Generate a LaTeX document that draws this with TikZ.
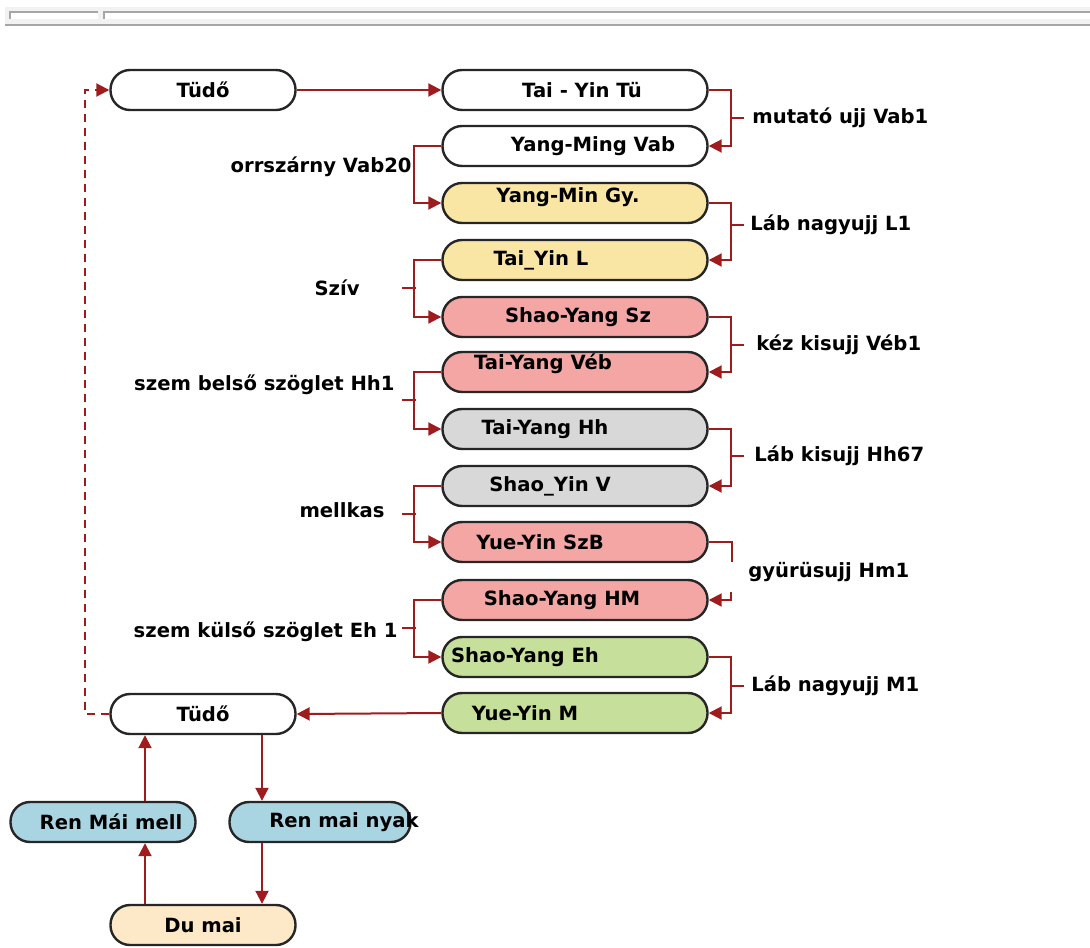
\documentclass[tikz,border=0pt]{standalone}
\usepackage{fontspec}
\setmainfont{DejaVu Sans}
\usetikzlibrary{arrows.meta}
\definecolor{ln}{HTML}{9E1B1E}
\definecolor{cyel}{HTML}{FAE6A4}
\definecolor{cpink}{HTML}{F4A6A4}
\definecolor{cgray}{HTML}{D8D8D8}
\definecolor{cgreen}{HTML}{C6DF9A}
\definecolor{cblue}{HTML}{A9D4E2}
\definecolor{ccream}{HTML}{FDE8C8}
\begin{document}
\begin{tikzpicture}[x=0.5pt,y=-0.5pt,
  stad/.style={draw=black!85, line width=1.2pt, rectangle, rounded corners=9.8pt,
    minimum width=132.5pt, minimum height=20pt, inner sep=0pt},
  sm/.style={stad, minimum width=92.5pt},
  txt/.style={font=\bfseries\fontsize{9.8}{11}\selectfont, inner sep=0pt},
  con/.style={draw=ln, line width=1pt},
  arr/.style={con, -{Triangle[length=6.5pt,width=6.5pt]}},
  tick/.style={con}
]
\useasboundingbox (0,0) rectangle (1090,947);
% top bar
\fill[gray!10] (5,7) rectangle (1090,26);
\draw[gray!70, line width=1pt] (5,25.5) -- (1090,25.5);
\fill[white] (10,12) rectangle (98,19);
\draw[gray!70, line width=1pt] (10,19) |- (98,12);
\fill[white] (104,12) rectangle (1090,19);
\draw[gray!70, line width=1pt] (104,19) |- (1090,12);

% right column
\node[stad, fill=white] (n1) at (575,90) {};
\node[txt, xshift=3.5pt] at (n1) {Tai - Yin Tü};
\node[stad, fill=white] (n2) at (575,146) {};
\node[txt, xshift=9pt] at (n2) {Yang-Ming Vab};
\node[stad, fill=cyel] (n3) at (575,203) {};
\node[txt, xshift=-3.5pt, yshift=3pt] at (n3) {Yang-Min Gy.};
\node[stad, fill=cyel] (n4) at (575,260) {};
\node[txt, xshift=-17pt] at (n4) {Tai\_Yin L};
\node[stad, fill=cpink] (n5) at (575,317) {};
\node[txt, xshift=1.5pt] at (n5) {Shao-Yang Sz};
\node[stad, fill=cpink] (n6) at (575,372) {};
\node[txt, xshift=-16pt, yshift=4pt] at (n6) {Tai-Yang Véb};
\node[stad, fill=cgray] (n7) at (575,429) {};
\node[txt, xshift=-15pt] at (n7) {Tai-Yang Hh};
\node[stad, fill=cgray] (n8) at (575,486) {};
\node[txt, xshift=-12.5pt] at (n8) {Shao\_Yin V};
\node[stad, fill=cpink] (n9) at (575,542) {};
\node[txt, xshift=-17.5pt] at (n9) {Yue-Yin SzB};
\node[stad, fill=cpink] (n10) at (575,600) {};
\node[txt, xshift=-6.5pt] at (n10) {Shao-Yang HM};
\node[stad, fill=cgreen] (n11) at (575,657) {};
\node[txt, xshift=-25pt] at (n11) {Shao-Yang Eh};
\node[stad, fill=cgreen] (n12) at (575,713) {};
\node[txt, xshift=-25pt] at (n12) {Yue-Yin M};

% left nodes
\node[sm, fill=white] (t1) at (203,90) {};
\node[txt] at (t1) {Tüdő};
\node[sm, fill=white] (t2) at (203,714) {};
\node[txt] at (t2) {Tüdő};
\node[sm, fill=cblue] (r1) at (103,822) {};
\node[txt, xshift=4pt] at (r1) {Ren Mái mell};
\node[stad, fill=cblue, minimum width=90.5pt] (r2) at (320,822) {};
\node[txt, xshift=12pt] at (r2) {Ren mai nyak};
\node[sm, fill=ccream] (d) at (203,925) {};
\node[txt] at (d) {Du mai};

% main horizontal connectors
\draw[arr] (t1.east) -- (n1.west);
\draw[arr] (n12.west) -- (t2.east);
\draw[con, dashed, dash pattern=on 4pt off 3pt, -{Triangle[length=6.5pt,width=6.5pt]}] (t2.west) -- ++(-24,0) |- (t1.west);

% right brackets
\draw[arr] (n1.east) -- ++(22,0) |- (n2.east);
\node[txt, anchor=west] (l1) at (752,118) {mutató ujj Vab1};
\draw[tick] (730,118) -- (744,118);
\draw[arr] (n3.east) -- ++(22,0) |- (n4.east);
\node[txt, anchor=west] (l2) at (750,225) {Láb nagyujj L1};
\draw[tick] (730,225) -- (744,225);
\draw[arr] (n5.east) -- ++(22,0) |- (n6.east);
\node[txt, anchor=west] (l3) at (756,345) {kéz kisujj Véb1};
\draw[tick] (730,345) -- (744,345);
\draw[arr] (n7.east) -- ++(22,0) |- (n8.east);
\node[txt, anchor=west] (l4) at (754,456) {Láb kisujj Hh67};
\draw[tick] (730,456) -- (744,456);
\draw[con] (n9.east) -- ++(23,0) -- ++(0,20);
\coordinate (g) at (731,592);
\draw[arr] (g) |- (n10.east);
\node[txt, anchor=west] (l5) at (748,572) {gyürüsujj Hm1};
\draw[arr] (n11.east) -- ++(22,0) |- (n12.east);
\node[txt, anchor=west] (l6) at (751,686) {Láb nagyujj M1};
\draw[tick] (730,686) -- (744,686);

% left brackets
\draw[arr] (n2.west) -- ++(-27,0) |- (n3.west);
\node[txt, anchor=east] (k1) at (412,167) {orrszárny Vab20};
\draw[arr] (n4.west) -- ++(-27,0) |- (n5.west);
\node[txt, anchor=east] (k2) at (360,288) {Szív};
\draw[tick] (402,288) -- (416,288);
\draw[arr] (n6.west) -- ++(-27,0) |- (n7.west);
\node[txt, anchor=east] (k3) at (395,385) {szem belső szöglet Hh1};
\draw[tick] (402,400) -- (416,400);
\draw[arr] (n8.west) -- ++(-27,0) |- (n9.west);
\node[txt, anchor=east] (k4) at (385,510) {mellkas};
\draw[tick] (402,514) -- (416,514);
\draw[arr] (n10.west) -- ++(-27,0) |- (n11.west);
\node[txt, anchor=east] (k5) at (398,632) {szem külső szöglet Eh 1};
\draw[tick] (402,628) -- (416,628);

% bottom loop
\draw[arr] ([xshift=29.5pt]t2.south) -- ([xshift=29.5pt]t2.south |- r2.north);
\draw[arr] ([xshift=29.5pt]t2.south |- r2.south) -- ([xshift=29.5pt]d.north);
\draw[arr] ([xshift=-29pt]d.north) -- ([xshift=-29pt]d.north |- r1.south);
\draw[arr] ([xshift=-29pt]t2.south |- r1.north) -- ([xshift=-29pt]t2.south);
\end{tikzpicture}
\end{document}
